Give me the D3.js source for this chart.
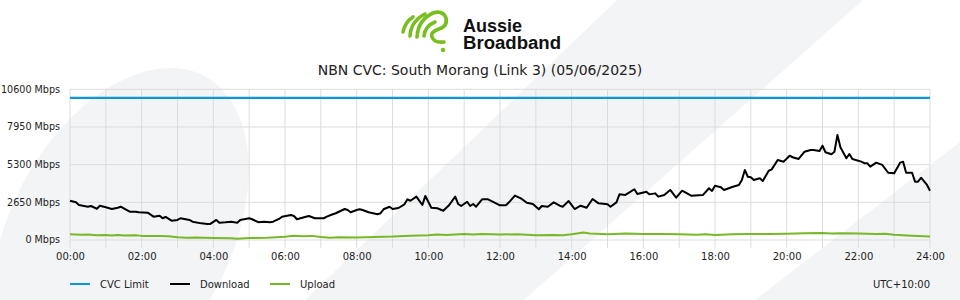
<!DOCTYPE html>
<html>
<head>
<meta charset="utf-8">
<script src="https://cdn.jsdelivr.net/npm/d3@7"></script>
<style>
  html, body { margin: 0; padding: 0; background: #fff; }
  svg { display: block; font-family: "DejaVu Sans", sans-serif; }
</style>
</head>
<body>
<div id="chart"></div>
<script>
// 数据
const chartTitle = "NBN CVC: South Morang (Link 3) (05/06/2025)";
const yTicks = [0, 2650, 5300, 7950, 10600];
const xTickLabels = ["00:00", "02:00", "04:00", "06:00", "08:00", "10:00", "12:00",
  "14:00", "16:00", "18:00", "20:00", "22:00", "24:00"];
const seriesNames = ["CVC Limit", "Download", "Upload"];
const seriesColors = ["#0a97d9", "#000000", "#78b828"];

const cvcLimit = [["00:00", 10000], ["24:00", 10000]];

const download = [
  ["00:00", 2760], ["00:10", 2650], ["00:15", 2460], ["00:30", 2340], ["00:35", 2390],
  ["00:45", 2200], ["00:50", 2410], ["01:00", 2300], ["01:10", 2180], ["01:20", 2270],
  ["01:25", 2340], ["01:30", 2230], ["01:40", 1990], ["01:50", 1990], ["01:55", 1950],
  ["02:10", 1920], ["02:20", 1640], ["02:30", 1710], ["02:35", 1530], ["02:40", 1620],
  ["02:50", 1360], ["03:00", 1410], ["03:05", 1530], ["03:20", 1410], ["03:25", 1290],
  ["03:40", 1170], ["03:50", 1130], ["03:55", 1130], ["04:05", 1410], ["04:10", 1220],
  ["04:20", 1250], ["04:30", 1290], ["04:40", 1220], ["04:45", 1410], ["05:00", 1530],
  ["05:05", 1460], ["05:15", 1250], ["05:25", 1290], ["05:35", 1250], ["05:40", 1290],
  ["05:50", 1480], ["05:55", 1640], ["06:10", 1760], ["06:15", 1690], ["06:20", 1460],
  ["06:35", 1640], ["06:40", 1690], ["06:50", 1530], ["07:05", 1530], ["07:10", 1640],
  ["07:20", 1810], ["07:25", 1880], ["07:40", 2180], ["07:45", 2110], ["07:50", 1950],
  ["08:00", 2110], ["08:05", 2160], ["08:10", 2110], ["08:20", 1950], ["08:35", 1810],
  ["08:40", 1880], ["08:45", 2160], ["08:55", 2340], ["09:00", 2180], ["09:10", 2250],
  ["09:20", 2510], ["09:25", 2860], ["09:30", 2760], ["09:40", 3050], ["09:50", 2460],
  ["09:55", 3100], ["10:05", 2270], ["10:15", 2230], ["10:25", 2060], ["10:35", 2460],
  ["10:45", 3050], ["10:50", 2530], ["10:55", 2390], ["11:05", 2690], ["11:10", 2390],
  ["11:15", 2530], ["11:20", 2340], ["11:30", 2860], ["11:40", 2860], ["11:50", 2650],
  ["12:00", 2440], ["12:10", 2440], ["12:15", 2650], ["12:25", 3120], ["12:35", 2930],
  ["12:45", 2620], ["12:55", 2530], ["13:05", 2160], ["13:10", 2390], ["13:20", 2340],
  ["13:30", 2650], ["13:40", 2410], ["13:45", 2340], ["13:55", 2740], ["14:05", 2180],
  ["14:15", 2410], ["14:25", 2270], ["14:35", 2880], ["14:45", 2580], ["15:00", 2510],
  ["15:05", 2340], ["15:15", 2650], ["15:20", 3210], ["15:30", 3170], ["15:45", 3570],
  ["15:50", 3240], ["16:05", 3400], ["16:10", 3210], ["16:20", 3280], ["16:25", 3050],
  ["16:35", 3170], ["16:45", 3520], ["16:55", 2980], ["17:05", 3470], ["17:20", 3120],
  ["17:40", 3170], ["17:50", 3640], ["17:55", 3450], ["18:00", 3820], ["18:10", 3710],
  ["18:15", 3520], ["18:30", 3750], ["18:40", 3870], ["18:45", 4220], ["18:50", 4920],
  ["18:55", 4450], ["19:00", 4410], ["19:05", 4220], ["19:15", 4340], ["19:20", 4150],
  ["19:30", 4870], ["19:35", 4970], ["19:45", 5630], ["19:55", 5510], ["20:05", 5930],
  ["20:10", 5820], ["20:20", 5700], ["20:30", 6210], ["20:40", 6330], ["20:45", 6330],
  ["20:55", 6260], ["21:00", 6630], ["21:05", 6170], ["21:15", 6030], ["21:20", 6210],
  ["21:25", 7390], ["21:30", 6520], ["21:40", 5750], ["21:45", 6050], ["21:50", 5700],
  ["22:05", 5510], ["22:10", 5400], ["22:15", 5400], ["22:20", 5160], ["22:30", 5440],
  ["22:40", 5280], ["22:50", 4730], ["23:00", 4690], ["23:10", 5440], ["23:15", 5510],
  ["23:20", 4730], ["23:30", 4730], ["23:35", 4100], ["23:40", 4100], ["23:45", 4380],
  ["23:55", 3870], ["24:00", 3470]
];

const upload = [
  ["00:00", 400], ["00:20", 370], ["00:30", 380], ["00:45", 340], ["01:00", 360], ["01:10", 320],
  ["01:20", 350], ["01:30", 320], ["01:50", 330], ["02:00", 290], ["02:30", 280], ["02:45", 260],
  ["03:00", 190], ["03:15", 150], ["03:30", 170], ["04:00", 140], ["04:30", 120], ["04:40", 80],
  ["05:00", 140], ["05:30", 150], ["06:00", 230], ["06:15", 300], ["06:30", 260], ["06:45", 290],
  ["07:00", 210], ["07:15", 160], ["07:30", 190], ["08:00", 180], ["08:30", 210], ["09:00", 240],
  ["09:30", 300], ["10:00", 330], ["10:15", 380], ["10:30", 350], ["11:00", 430], ["11:15", 390],
  ["11:30", 420], ["12:00", 380], ["12:30", 410], ["13:00", 330], ["13:30", 360], ["13:45", 330],
  ["14:00", 400], ["14:20", 520], ["14:30", 450], ["15:00", 400], ["15:30", 460], ["16:00", 430],
  ["16:30", 420], ["17:00", 400], ["17:30", 370], ["17:45", 400], ["18:00", 360], ["18:30", 400],
  ["19:00", 420], ["19:30", 420], ["20:00", 440], ["20:30", 470], ["21:00", 500], ["21:15", 460],
  ["21:30", 480], ["22:00", 450], ["22:30", 420], ["22:45", 440], ["23:00", 370], ["23:30", 300],
  ["24:00", 250]
];

const width = 960, height = 300;
const margin = { left: 70, right: 30, top: 89.3, bottom: 60 };

const toMin = t => { const p = t.split(":"); return +p[0] * 60 + +p[1]; };

const svg = d3.select("#chart").append("svg")
  .attr("width", width)
  .attr("height", height);

// 背景装饰
const bg = svg.append("g");
bg.append("rect").attr("width", width).attr("height", height).attr("fill", "#ffffff");
bg.append("ellipse")
  .attr("cx", 120).attr("cy", 235).attr("rx", 110).attr("ry", 180)
  .attr("transform", "rotate(28,120,235)")
  .attr("fill", "#f3f4f6");
bg.append("polygon")
  .attr("points", "617,0 863,0 524,300 305,300")
  .attr("fill", "#f3f4f6");
bg.append("polygon")
  .attr("points", "960,142 960,300 755,300")
  .attr("fill", "#f3f4f6");

// logo
const logo = svg.append("g")
  .attr("fill", "none")
  .attr("stroke", "#78be20")
  .attr("stroke-width", 3.6)
  .attr("stroke-linecap", "round");
logo.append("path").attr("d", "M403,32 Q405,22 413,17");
logo.append("path").attr("d", "M410,36 Q411,21 425,14");
logo.append("path").attr("d", "M417,37 Q418,20 433,13 Q443,10 446,18 Q448,26 439,29 Q430,32 432,37 Q434,43 444,42");
logo.append("path").attr("d", "M424,36 Q425,26 435,22");
logo.append("circle").attr("cx", 443).attr("cy", 50).attr("r", 2.2)
  .attr("fill", "#78be20").attr("stroke", "none");
svg.append("text").attr("x", 463).attr("y", 32)
  .attr("font-family", "Liberation Sans, Arial, sans-serif").attr("font-weight", "bold")
  .attr("font-size", 18).attr("fill", "#111").text("Aussie");
svg.append("text").attr("x", 463).attr("y", 49)
  .attr("font-family", "Liberation Sans, Arial, sans-serif").attr("font-weight", "bold")
  .attr("font-size", 18).attr("fill", "#111")
  .attr("textLength", 98).attr("lengthAdjust", "spacingAndGlyphs").text("Broadband");

// 标题
svg.append("text")
  .attr("x", 480).attr("y", 75)
  .attr("text-anchor", "middle")
  .attr("font-size", 14)
  .attr("fill", "#222")
  .text(chartTitle);

const x = d3.scaleLinear().domain([0, 1440]).range([margin.left, width - margin.right]);
const y = d3.scaleLinear().domain([0, 10600]).range([240, margin.top]);

// 网格
const grid = svg.append("g").attr("stroke", "#dcdcdc").attr("stroke-width", 1);
grid.selectAll("line.v")
  .data(d3.range(0, 1441, 60))
  .enter().append("line")
  .attr("x1", d => x(d)).attr("x2", d => x(d))
  .attr("y1", y(10600)).attr("y2", 248);
grid.selectAll("line.h")
  .data(yTicks)
  .enter().append("line")
  .attr("x1", x(0)).attr("x2", x(1440))
  .attr("y1", d => y(d)).attr("y2", d => y(d));

// y 轴
const yAxis = svg.append("g")
  .attr("transform", `translate(${margin.left - 10},0)`)
  .call(d3.axisLeft(y).tickValues(yTicks).tickSize(0).tickFormat(d => d + " Mbps"));
yAxis.select(".domain").remove();
yAxis.selectAll("text").attr("font-size", 9.6).attr("fill", "#222")
  .attr("font-family", "DejaVu Sans, sans-serif").attr("x", 0).attr("dy", "0.3em");

// x 轴
const xAxis = svg.append("g")
  .attr("transform", "translate(0,250)")
  .call(d3.axisBottom(x).tickValues(xTickLabels.map(toMin)).tickSize(0)
    .tickFormat((d, i) => xTickLabels[i]));
xAxis.select(".domain").remove();
xAxis.selectAll("text").attr("font-size", 10).attr("fill", "#222")
  .attr("font-family", "DejaVu Sans, sans-serif").attr("dy", "0.71em");

// 折线
const line = d3.line().x(d => x(toMin(d[0]))).y(d => y(d[1]));
[cvcLimit, download, upload].forEach((s, i) => {
  svg.append("path")
    .datum(s)
    .attr("d", line)
    .attr("fill", "none")
    .attr("stroke", seriesColors[i])
    .attr("stroke-width", i === 0 ? 2.4 : 2)
    .attr("stroke-linejoin", "round");
});

// 图例
const legendX = [70, 170, 270];
seriesNames.forEach((n, i) => {
  const g = svg.append("g").attr("transform", `translate(${legendX[i]},284)`);
  g.append("line").attr("x1", 0).attr("x2", 20).attr("y1", 0).attr("y2", 0)
    .attr("stroke", seriesColors[i]).attr("stroke-width", 2);
  g.append("text").attr("x", 30).attr("dy", "0.35em")
    .attr("font-size", 10).attr("fill", "#222").text(n);
});
svg.append("text")
  .attr("x", 930).attr("y", 284).attr("dy", "0.35em")
  .attr("text-anchor", "end")
  .attr("font-size", 10).attr("fill", "#222")
  .text("UTC+10:00");
</script>
</body>
</html>
